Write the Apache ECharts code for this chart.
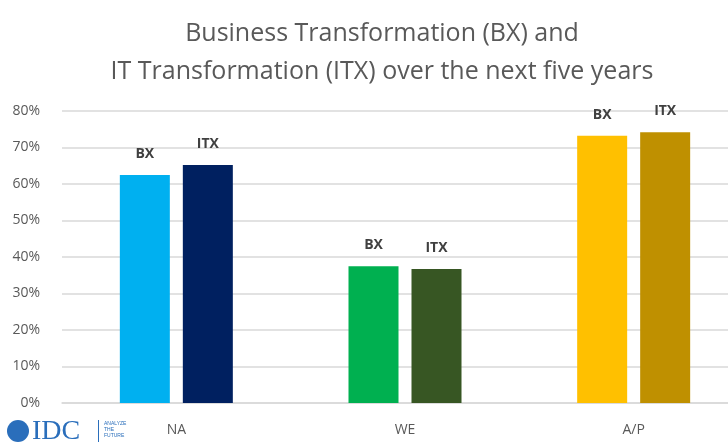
<!DOCTYPE html>
<html>
<head>
<meta charset="UTF-8">
<script src="https://cdn.jsdelivr.net/npm/echarts@6/dist/echarts.min.js"></script>
<style>
  body { margin: 0; background: #fff; overflow: hidden; }
  #chart { width: 760px; height: 445px; }
</style>
</head>
<body>
<div id="chart"></div>
<script>
  const regions = ['NA', 'WE', 'A/P'];
  const bxValues = [62.5, 37.5, 73.2];
  const itxValues = [65.2, 36.7, 74.2];
  const bxColors = ['#00b0f0', '#00b050', '#ffc000'];
  const itxColors = ['#002060', '#375623', '#bf9000'];

  // canvas is a bit wider than the window so the last category sits where the original has it
  const chart = echarts.init(document.getElementById('chart'));

  const barLabel = function (text) {
    return {
      show: true, position: 'top', distance: 14,
      formatter: text, color: '#404040', fontWeight: 'bold', fontSize: 14,
      fontFamily: 'Open Sans'
    };
  };

  chart.setOption({
    title: {
      text: 'Business Transformation (BX) and\nIT Transformation (ITX) over the next five years',
      left: 377, top: 10, textAlign: 'center',
      textStyle: { color: '#595959', fontSize: 25, fontWeight: 'normal', lineHeight: 38, fontFamily: 'Open Sans' }
    },
    grid: { left: 62, right: 12, top: 111, bottom: 42 },
    xAxis: {
      type: 'category', data: regions,
      axisTick: { show: false },
      axisLine: { lineStyle: { color: '#d9d9d9', width: 1.5 } },
      axisLabel: { color: '#595959', fontSize: 14, margin: 20, fontFamily: 'Open Sans' }
    },
    yAxis: {
      type: 'value', min: 0, max: 80, interval: 10,
      axisLabel: { formatter: '{value}%', color: '#595959', fontSize: 14, margin: 22, fontFamily: 'Open Sans' },
      splitLine: { lineStyle: { color: '#d9d9d9', width: 1.5 } }
    },
    series: [
      {
        name: 'BX', type: 'bar', barWidth: 50, barGap: '26%',
        data: bxValues.map((v, i) => ({ value: v, itemStyle: { color: bxColors[i] } })),
        label: barLabel('BX')
      },
      {
        name: 'ITX', type: 'bar', barWidth: 50,
        data: itxValues.map((v, i) => ({ value: v, itemStyle: { color: itxColors[i] } })),
        label: barLabel('ITX')
      }
    ],
    graphic: [
      { type: 'circle', shape: { cx: 18, cy: 431, r: 11 }, style: { fill: '#2a6ebb' } },
      { type: 'text', left: 32, top: 418, style: { text: 'IDC', fill: '#2a6ebb', font: '28px "Liberation Serif"' } },
      { type: 'rect', shape: { x: 98, y: 420, width: 1, height: 22 }, style: { fill: '#2a6ebb' } },
      { type: 'text', left: 104, top: 421, style: { text: 'ANALYZE\nTHE\nFUTURE', fill: '#2a6ebb', font: '5px sans-serif', lineHeight: 6 } }
    ]
  });
</script>
</body>
</html>
